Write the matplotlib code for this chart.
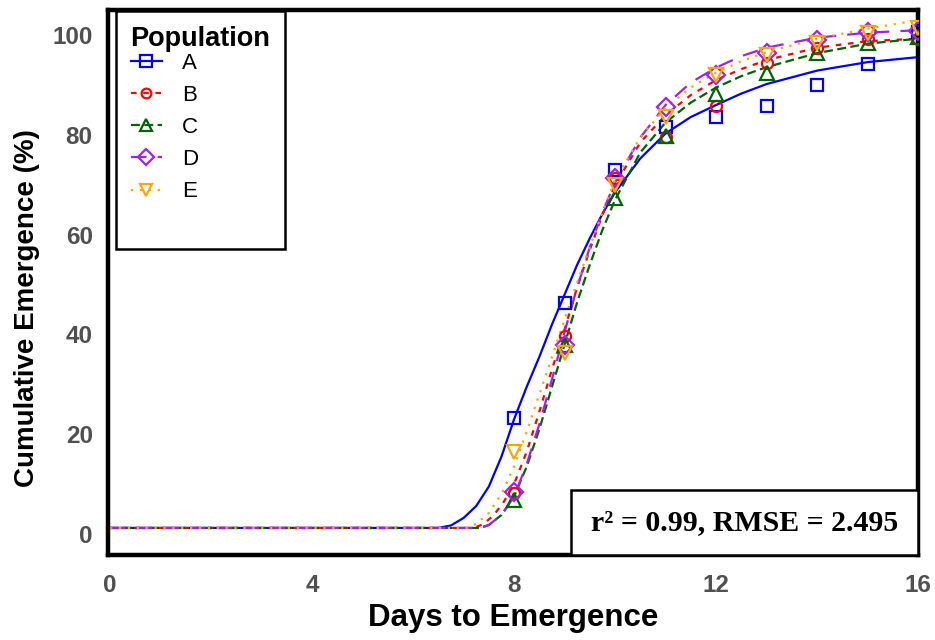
import matplotlib
matplotlib.use("Agg")
import matplotlib.pyplot as plt
from matplotlib.lines import Line2D
from matplotlib.patches import Rectangle

# observed days
days = [8, 9, 10, 11, 12, 13, 14, 15, 16]
obs_A = [23.2, 46.3, 73.0, 81.6, 83.6, 85.8, 90.0, 94.2, 100.6]
obs_B = [8.2, 39.7, 71.3, 79.6, 85.8, 94.4, 97.5, 99.3, 99.3]
obs_C = [6.8, 37.9, 67.3, 79.8, 88.2, 92.5, 96.5, 98.5, 99.6]
obs_D = [8.4, 37.9, 71.3, 85.5, 92.0, 96.4, 99.0, 100.7, 100.9]
obs_E = [16.4, 36.3, 70.0, 83.6, 92.0, 96.0, 98.5, 100.5, 101.5]

# fitted curves
fit_x_A = [0, 6.5, 6.75, 7.0, 7.25, 7.5, 7.75, 8.0, 8.25, 8.5, 8.75, 9.0, 9.25, 9.5, 9.75,
           10.0, 10.5, 11.0, 11.5, 12.0, 12.5, 13.0, 14.0, 15.0, 16.0]
fit_A = [1.2, 1.2, 1.7, 3.2, 5.6, 9.5, 15.5, 23.0, 29.5, 35.5, 42.0, 48.0, 54.0, 59.3, 64.2,
         68.5, 75.3, 80.3, 83.6, 86.0, 88.3, 90.2, 92.9, 94.6, 95.6]
fit_x_B = [0, 7.2, 7.4, 7.6, 7.8, 8.0, 8.25, 8.5, 8.75, 9.0, 9.25, 9.5, 9.75,
           10.0, 10.5, 11.0, 11.5, 12.0, 12.5, 13.0, 14.0, 15.0, 16.0]
fit_B = [1.2, 1.2, 2.0, 3.8, 6.5, 10.0, 16.5, 24.5, 33.0, 41.0, 49.5, 57.0, 64.0,
         70.0, 78.5, 84.0, 88.0, 91.0, 93.2, 95.0, 97.5, 98.8, 99.3]
fit_x_C = [0, 7.33, 7.5, 7.75, 8.0, 8.25, 8.5, 8.75, 9.0, 9.25, 9.5, 9.75,
           10.0, 10.5, 11.0, 11.5, 12.0, 12.5, 13.0, 14.0, 15.0, 16.0]
fit_C = [1.2, 1.2, 1.8, 3.8, 7.5, 13.5, 21.0, 29.5, 38.0, 46.5, 54.0, 61.0,
         67.0, 76.5, 82.5, 86.5, 89.5, 91.8, 93.6, 96.4, 98.3, 99.3]
fit_x_D = [0, 7.33, 7.5, 7.75, 8.0, 8.25, 8.5, 8.75, 9.0, 9.25, 9.5, 9.75,
           10.0, 10.5, 11.0, 11.5, 12.0, 12.5, 13.0, 14.0, 15.0, 16.0]
fit_D = [1.2, 1.2, 1.8, 3.8, 7.5, 14.0, 22.0, 31.0, 40.5, 49.5, 57.5, 64.5,
         70.5, 79.5, 86.0, 90.5, 93.5, 95.8, 97.5, 99.5, 100.5, 101.0]
fit_x_E = [0, 7.07, 7.25, 7.5, 7.75, 8.0, 8.25, 8.5, 8.75, 9.0, 9.25, 9.5, 9.75,
           10.0, 10.5, 11.0, 11.5, 12.0, 12.5, 13.0, 14.0, 15.0, 16.0]
fit_E = [1.2, 1.2, 2.0, 4.2, 8.0, 13.5, 20.5, 28.0, 35.5, 43.0, 50.5, 57.5, 64.5,
         71.0, 79.5, 85.5, 89.5, 92.5, 94.8, 96.6, 99.3, 101.3, 103.0]

populations = ["A", "B", "C", "D", "E"]
colors = ["#0000ff", "#ff0000", "#006400", "#a020f0", "#ffa500"]
markers = ["s", "o", "^", "D", "v"]
msizes = [9, 8, 10, 9, 10]
styles = ["-", (0, (2.5, 3)), (0, (4, 2)), (0, (7, 5)), (0, (1, 3))]

obs = [obs_A, obs_B, obs_C, obs_D, obs_E]
fit_x = [fit_x_A, fit_x_B, fit_x_C, fit_x_D, fit_x_E]
fits = [fit_A, fit_B, fit_C, fit_D, fit_E]

plt.rcParams["font.family"] = ["Liberation Sans", "DejaVu Sans"]

fig = plt.figure(figsize=(9.35, 6.4), dpi=100)
ax = fig.add_axes([0.1155, 0.133, 0.8665, 0.851])

for i in range(5):
    ax.plot(fit_x[i], fits[i], color=colors[i], linestyle=styles[i], lw=1.6, zorder=2)
    ax.plot(days, obs[i], linestyle="none", marker=markers[i], ms=msizes[i],
            mfc="none", mec=colors[i], mew=1.6, zorder=3)

ax.set_xlim(-0.04, 16.0)
ax.set_ylim(-4.2, 105)
ax.set_xticks([0, 4, 8, 12, 16])
ax.set_yticks([0, 20, 40, 60, 80, 100])
ax.tick_params(length=0, labelcolor="#505050", labelsize=17.5)
ax.tick_params(axis="x", pad=14)
ax.tick_params(axis="y", pad=11)
for lab in ax.get_xticklabels() + ax.get_yticklabels():
    lab.set_fontweight("bold")
for sp in ax.spines.values():
    sp.set_linewidth(3.2)
    sp.set_color("black")

ax.set_xlabel("Days to Emergence", fontsize=22.5, fontweight="bold", labelpad=4)
ax.set_ylabel("Cumulative Emergence (%)", fontsize=20, fontweight="bold")
ax.yaxis.set_label_coords(-0.084, 0.453)

handles = [Line2D([], [], color=colors[i], linestyle=styles[i], lw=1.6,
                  marker=markers[i], ms=msizes[i] - 1, mfc="none", mec=colors[i], mew=1.6)
           for i in range(5)]
# blank row keeps the empty space under "E"
handles.append(Line2D([], [], linestyle="none"))
leg = ax.legend(handles, populations + [" "], title="Population", loc="upper left",
                bbox_to_anchor=(0.01, 0.998), borderaxespad=0, fontsize=16,
                title_fontproperties={"weight": "bold", "size": 19.5},
                handlelength=1.4, handletextpad=0.9, labelspacing=0.5,
                borderpad=0.65, alignment="left", fancybox=False, framealpha=1)
leg._legend_box.sep = 0.8
leg.get_frame().set_edgecolor("black")
leg.get_frame().set_linewidth(1.8)

ax.add_patch(Rectangle((0.571, 0.0), 0.429, 0.119, transform=ax.transAxes,
                       facecolor="white", edgecolor="black", lw=1.8, zorder=5))
ax.text(0.7855, 0.06, "r\u00b2 = 0.99, RMSE = 2.495", transform=ax.transAxes,
        ha="center", va="center", fontsize=21.5, fontweight="bold",
        family=["Liberation Serif", "DejaVu Serif"], zorder=6)

fig.savefig("out.png", dpi=100)
